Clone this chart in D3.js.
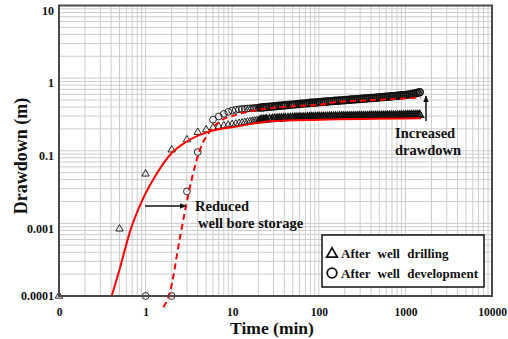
<!DOCTYPE html>
<html>
<head>
<meta charset="utf-8">
<script src="https://cdn.jsdelivr.net/npm/d3@7"></script>
<style>
body { margin: 0; background: #fff; }
text { font-family: "Liberation Serif", "Times New Roman", serif; font-weight: bold; fill: #111; }
</style>
</head>
<body>
<svg id="chart" width="508" height="339"></svg>
<script>
// axis ticks (labels as printed on the original figure)
var xTicks = [0.1, 1, 10, 100, 1000, 10000];
var xTickLabels = ["0", "1", "10", "100", "1000", "10000"];
var yTicks = [0.001, 0.01, 0.1, 1, 10];
var yTickLabels = ["0.0001", "0.001", "0.1", "1", "10"];

// early readings
var drillEarlyTime = [0.1, 0.5, 1, 2, 3, 4, 5];
var drillEarlyDrawdown = [0.001, 0.0084, 0.048, 0.103, 0.142, 0.18, 0.195];
var devEarlyTime = [1, 2, 3, 4];
var devEarlyDrawdown = [0.001, 0.001, 0.0275, 0.096];

// late readings, both tests (min)
var lateTime = [6, 7, 8, 9, 10, 11, 12, 13, 14, 15, 16, 17, 18, 19, 20, 21, 22, 23, 24, 25,
	27, 29, 31, 33, 35, 37, 39, 41, 44, 47, 50, 53, 56, 59, 62, 66, 70, 74, 78, 82, 86,
	91, 96, 101, 107, 113, 119, 126, 133, 140, 148, 156, 165, 174, 184, 194, 205, 216,
	228, 240, 253, 267, 282, 297, 313, 330, 348, 367, 387, 408, 430, 454, 479, 505, 533,
	562, 593, 625, 659, 695, 733, 773, 815, 860, 907, 957, 1009, 1065, 1123, 1185, 1250,
	1318, 1390, 1466];

var drillLateDrawdown = [0.208, 0.215, 0.221, 0.226, 0.231, 0.235, 0.239, 0.243, 0.246, 0.249,
	0.252, 0.255, 0.257, 0.259, 0.261, 0.263, 0.265, 0.267, 0.268, 0.270,
	0.272, 0.274, 0.276, 0.277, 0.278, 0.279, 0.280, 0.281, 0.282, 0.283, 0.284, 0.285,
	0.286, 0.286, 0.287, 0.288, 0.288, 0.289, 0.289, 0.290, 0.290, 0.291, 0.291, 0.292,
	0.292, 0.293, 0.293, 0.293, 0.294, 0.294, 0.295, 0.295, 0.295, 0.296, 0.296, 0.296,
	0.297, 0.297, 0.297, 0.298, 0.298, 0.298, 0.299, 0.299, 0.299, 0.300, 0.300, 0.300,
	0.301, 0.301, 0.301, 0.302, 0.302, 0.302, 0.303, 0.303, 0.303, 0.304, 0.304, 0.304,
	0.305, 0.305, 0.305, 0.306, 0.306, 0.307, 0.307, 0.308, 0.308, 0.309, 0.309, 0.310,
	0.310, 0.311];

var devLateDrawdown = [0.268, 0.297, 0.322, 0.343, 0.357, 0.366, 0.372, 0.376, 0.379, 0.381,
	0.383, 0.385, 0.387, 0.389, 0.391, 0.393, 0.395, 0.397, 0.399, 0.401,
	0.404, 0.407, 0.410, 0.413, 0.416, 0.418, 0.421, 0.423, 0.426, 0.429, 0.432, 0.435,
	0.438, 0.440, 0.443, 0.446, 0.449, 0.452, 0.454, 0.457, 0.459, 0.462, 0.464, 0.467,
	0.469, 0.472, 0.474, 0.477, 0.479, 0.482, 0.484, 0.487, 0.489, 0.492, 0.494, 0.497,
	0.499, 0.502, 0.504, 0.507, 0.509, 0.512, 0.514, 0.517, 0.519, 0.522, 0.524, 0.527,
	0.530, 0.532, 0.535, 0.538, 0.541, 0.544, 0.547, 0.550, 0.553, 0.556, 0.559, 0.562,
	0.566, 0.569, 0.573, 0.576, 0.580, 0.584, 0.588, 0.593, 0.598, 0.604, 0.611, 0.619,
	0.628, 0.640];

// fitted type curves
var drillFitTime = [0.406, 0.506, 0.66, 0.94, 1.22, 2.0, 2.98, 5.5, 11.3, 27.3, 103, 1520];
var drillFitDrawdown = [0.001, 0.00243, 0.0077, 0.0223, 0.0398, 0.093, 0.134, 0.185, 0.216, 0.254, 0.268, 0.281];
var devFitTime = [1.6, 1.9, 2.5, 3.4, 4.2, 5.5, 7.2, 11.3, 20.8, 50, 103, 150, 357, 1220, 1500];
var devFitDrawdown = [0.0007, 0.0011, 0.0065, 0.04, 0.1, 0.185, 0.254, 0.314, 0.368, 0.41, 0.43, 0.465, 0.494, 0.533, 0.54];

var cfg = { left: 59, right: 492, top: 5.5, bottom: 296 };

var x = d3.scaleLog().domain([0.1, 10000]).range([cfg.left, cfg.right]);
var y = d3.scaleLog().domain([0.001, 10]).range([cfg.bottom, cfg.top]);

var svg = d3.select("#chart");

var defs = svg.append("defs");
defs.append("marker")
	.attr("id", "head")
	.attr("viewBox", "0 0 10 10")
	.attr("refX", 9).attr("refY", 5)
	.attr("markerWidth", 7).attr("markerHeight", 7)
	.attr("markerUnits", "userSpaceOnUse")
	.attr("orient", "auto")
	.append("path").attr("d", "M0,1L10,5L0,9Z").attr("fill", "#111");

// grid
var grid = svg.append("g").attr("stroke", "#cdcdcd").attr("stroke-width", 1);
grid.selectAll(".gx").data(x.ticks()).enter().append("line")
	.attr("x1", function(d) { return x(d); }).attr("x2", function(d) { return x(d); })
	.attr("y1", cfg.top).attr("y2", cfg.bottom);
grid.selectAll(".gy").data(y.ticks()).enter().append("line")
	.attr("x1", cfg.left).attr("x2", cfg.right)
	.attr("y1", function(d) { return y(d); }).attr("y2", function(d) { return y(d); });

// axes
var xAxis = d3.axisBottom(x).tickValues(xTicks)
	.tickFormat(function(d, i) { return xTickLabels[i]; })
	.tickSize(0).tickPadding(12);
var gx = svg.append("g").attr("transform", "translate(0," + cfg.bottom + ")").call(xAxis);
gx.select(".domain").remove();
gx.attr("font-family", null).attr("font-size", null);
gx.selectAll("text").style("font-size", "11.5px");

var yAxis = d3.axisLeft(y).tickValues(yTicks)
	.tickFormat(function(d, i) { return yTickLabels[i]; })
	.tickSize(0).tickPadding(5);
var gy = svg.append("g").attr("transform", "translate(" + cfg.left + ",0)").call(yAxis);
gy.select(".domain").remove();
gy.attr("font-family", null).attr("font-size", null);
gy.selectAll("text").style("font-size", "12px")
	.attr("y", function(d, i) { return i === 0 ? 0 : 5; });

// markers
var tri = d3.symbol().type(d3.symbolTriangle).size(24);
var drillPts = d3.zip(drillEarlyTime.concat(lateTime), drillEarlyDrawdown.concat(drillLateDrawdown));
var devPts = d3.zip(devEarlyTime.concat(lateTime), devEarlyDrawdown.concat(devLateDrawdown));

svg.append("g").selectAll("path").data(drillPts).enter().append("path")
	.attr("d", tri)
	.attr("transform", function(d) { return "translate(" + x(d[0]) + "," + y(d[1]) + ")"; })
	.attr("fill", "none").attr("stroke", "#111")
	.attr("stroke-width", function(d) { return d[0] > 20 ? 1.6 : 0.9; });

svg.append("g").selectAll("circle").data(devPts).enter().append("circle")
	.attr("cx", function(d) { return x(d[0]); })
	.attr("cy", function(d) { return y(d[1]); })
	.attr("r", 3.4)
	.attr("fill", "none").attr("stroke", "#111")
	.attr("stroke-width", function(d) { return d[0] > 20 ? 1.6 : 0.9; });

// fitted curves
var line = d3.line()
	.x(function(d) { return x(d[0]); })
	.y(function(d) { return y(d[1]); })
	.curve(d3.curveMonotoneX);

svg.append("path").datum(d3.zip(drillFitTime, drillFitDrawdown))
	.attr("d", line).attr("fill", "none").attr("stroke", "#ff0000").attr("stroke-width", 2);
svg.append("path").datum(d3.zip(devFitTime, devFitDrawdown))
	.attr("d", line).attr("fill", "none").attr("stroke", "#ff0000").attr("stroke-width", 2)
	.attr("stroke-dasharray", "6,4");

// frame
svg.append("rect")
	.attr("x", cfg.left).attr("y", cfg.top)
	.attr("width", cfg.right - cfg.left).attr("height", cfg.bottom - cfg.top)
	.attr("fill", "none").attr("stroke", "#4a4a4a").attr("stroke-width", 2);

// annotations
svg.append("line").attr("x1", 145).attr("x2", 186).attr("y1", 206).attr("y2", 206)
	.attr("stroke", "#111").attr("stroke-width", 1.5).attr("marker-end", "url(#head)");
svg.append("text").attr("x", 195).attr("y", 211).style("font-size", "14.5px").text("Reduced");
svg.append("text").attr("x", 198).attr("y", 228).style("font-size", "14.5px").text("well bore storage");

svg.append("line").attr("x1", 426).attr("x2", 426).attr("y1", 121).attr("y2", 96)
	.attr("stroke", "#111").attr("stroke-width", 1.5).attr("marker-end", "url(#head)");
svg.append("text").attr("x", 395).attr("y", 137.5).style("font-size", "14.5px").text("Increased");
svg.append("text").attr("x", 395).attr("y", 155).style("font-size", "14.5px").text("drawdown");

// legend
var lg = svg.append("g");
lg.append("rect").attr("x", 322).attr("y", 235).attr("width", 162).attr("height", 52)
	.attr("fill", "#fff").attr("stroke", "#111").attr("stroke-width", 1.5);
lg.append("path").attr("d", d3.symbol().type(d3.symbolTriangle).size(48)())
	.attr("transform", "translate(332,254)")
	.attr("fill", "none").attr("stroke", "#111").attr("stroke-width", 1.8);
lg.append("circle").attr("cx", 332).attr("cy", 273).attr("r", 4.8)
	.attr("fill", "none").attr("stroke", "#111").attr("stroke-width", 1.8);
lg.append("text").attr("x", 341).attr("y", 257.5).style("font-size", "13px")
	.style("word-spacing", "4px").text("After well drilling");
lg.append("text").attr("x", 341).attr("y", 277.5).style("font-size", "13px")
	.style("word-spacing", "4px").text("After well development");

// axis titles
svg.append("text").attr("x", 272).attr("y", 334).attr("text-anchor", "middle")
	.style("font-size", "17.5px").text("Time (min)");
svg.append("text").attr("transform", "translate(27,156) rotate(-90)").attr("text-anchor", "middle")
	.style("font-size", "18px").text("Drawdown (m)");
</script>
</body>
</html>
